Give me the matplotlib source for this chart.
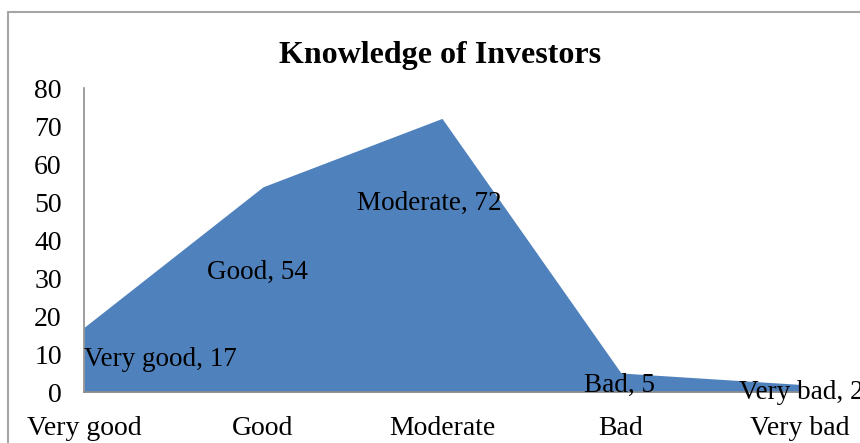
import matplotlib
matplotlib.use("Agg")
import matplotlib.pyplot as plt
from matplotlib.patches import Rectangle

categories = ["Very good", "Good", "Moderate", "Bad", "Very bad"]
values = [17, 54, 72, 5, 2]
yticks = [0, 10, 20, 30, 40, 50, 60, 70, 80]

# label anchor positions (style): x offset in category units, y in data units
label_dx = [0.0, -0.03, -0.07, -0.01, 0.01]
label_y = [8.5, 31.5, 49.5, 1.8, -0.2]
label_ha = ["left", "center", "center", "center", "center"]

plt.rcParams['font.family'] = ['Liberation Serif', 'DejaVu Serif']

fig = plt.figure(figsize=(8.6, 4.43), dpi=100)
ax = fig.add_axes([84/860, 1-392/443, (800-84)/860, (392-88)/443])

x = list(range(len(categories)))
ax.fill_between(x, values, 0, color="#4F81BD", linewidth=0)
ax.set_xlim(0, len(categories) - 1)
ax.set_ylim(0, 80)
ax.set_yticks(yticks)
ax.set_xticks(x)
ax.set_xticklabels(categories)
ax.tick_params(axis='both', length=0, labelsize=20)
ax.tick_params(axis='y', pad=16)
ax.tick_params(axis='x', pad=17)

for s in ["top", "right"]:
    ax.spines[s].set_visible(False)
ax.spines["left"].set_color("#8c8c8c")
ax.spines["bottom"].set_color("#8c8c8c")
ax.spines["left"].set_linewidth(1.2)
ax.spines["bottom"].set_linewidth(1.2)

for i, (c, v) in enumerate(zip(categories, values)):
    ax.text(i + label_dx[i], label_y[i], f"{c}, {v}", ha=label_ha[i], va="center",
            fontsize=19.5, clip_on=False)

fig.text(0.512, 1-55/443, "Knowledge of Investors", ha="center", va="center",
         fontsize=23, fontweight="bold")

fig.patches.append(Rectangle((8/860, -0.2), 1.5, 1.2 - 12/443, transform=fig.transFigure,
                             fill=False, edgecolor="#a6a6a6", linewidth=1.5))

fig.savefig("out.png", dpi=100)
